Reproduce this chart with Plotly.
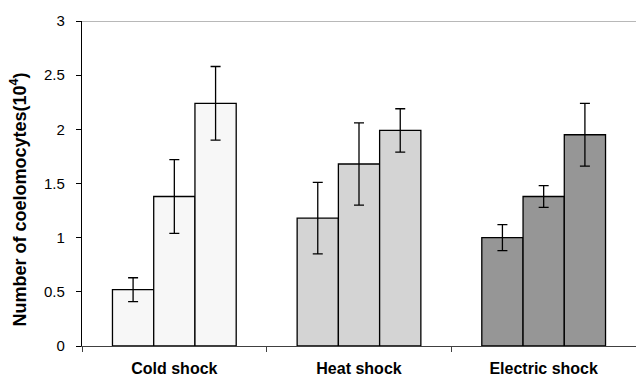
import plotly.graph_objects as go

categories = ["Cold shock", "Heat shock", "Electric shock"]
series1 = [0.52, 1.18, 1.00]
series2 = [1.38, 1.68, 1.38]
series3 = [2.24, 1.99, 1.95]
err1 = [0.11, 0.33, 0.12]
err2 = [0.34, 0.38, 0.10]
err3 = [0.34, 0.20, 0.29]
cat_colors = ["#F7F7F7", "#D4D4D4", "#969696"]
y_ticks = [0, 0.5, 1, 1.5, 2, 2.5, 3]
y_ticklabels = ["0", "0.5", "1", "1.5", "2", "2.5", "3"]

fig = go.Figure()
for vals, errs in [(series1, err1), (series2, err2), (series3, err3)]:
    fig.add_trace(go.Bar(
        x=categories, y=vals,
        marker=dict(color=cat_colors, line=dict(color="black", width=1.3)),
        error_y=dict(type="data", array=errs, visible=True, color="black", thickness=1.3, width=5),
        showlegend=False,
    ))

font_family = "Arial, Liberation Sans, sans-serif"
fig.update_layout(
    template="none",
    width=636, height=378,
    margin=dict(l=82, r=0, t=21, b=32, autoexpand=False),
    paper_bgcolor="white", plot_bgcolor="white",
    barmode="group", bargap=0.33, bargroupgap=0,
    font=dict(family=font_family, color="black"),
    xaxis=dict(
        automargin=False,
        showline=True, linecolor="#404040", linewidth=1.3,
        ticks="outside", tickson="boundaries", ticklen=5, tickcolor="#404040",
        ticklabelstandoff=8,
        tickfont=dict(size=16, family=font_family, weight="bold"),
        showgrid=False,
    ),
    yaxis=dict(
        automargin=False,
        range=[0, 3], tickvals=y_ticks, ticktext=y_ticklabels,
        showline=True, linecolor="black", linewidth=1.3,
        ticks="outside", ticklen=5, tickcolor="black",
        ticklabelstandoff=8,
        tickfont=dict(size=15, family=font_family),
        showgrid=False, zeroline=False,
    ),
    shapes=[dict(type="line", xref="paper", yref="y", x0=0, x1=1, y0=3, y1=3,
                 line=dict(color="#A0A0A0", width=1.5))],
    annotations=[dict(
        text="Number of coelomocytes(10<sup>4</sup>)",
        xref="paper", yref="paper", x=-0.114, y=0.45,
        xanchor="center", yanchor="middle", textangle=-90, showarrow=False,
        font=dict(size=18, family=font_family, weight="bold", color="black"),
    )],
)

fig.write_html(
    "out.html",
    config={"displayModeBar": False},
    post_script="document.body.style.margin='0';document.body.style.padding='0';",
)
